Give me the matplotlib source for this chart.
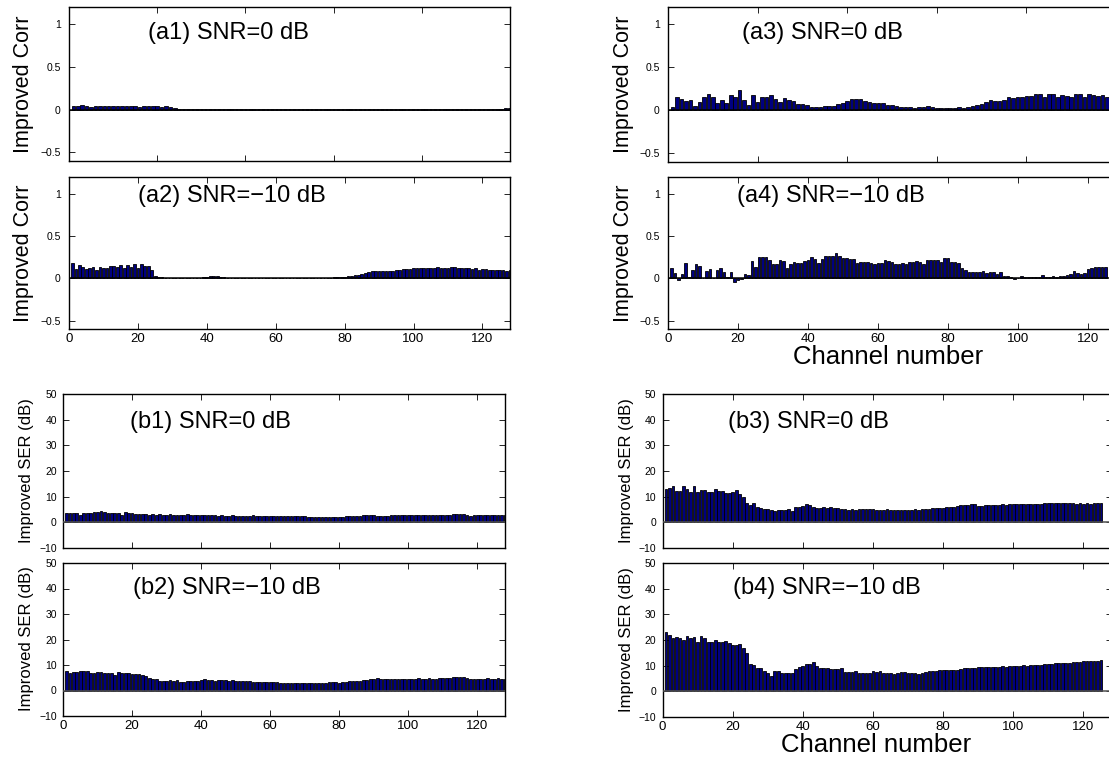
import matplotlib
matplotlib.use("Agg")
import matplotlib.pyplot as plt

plt.rcParams["font.family"] = ["Liberation Sans", "DejaVu Sans"]

# ---------------------------------------------------------------- data
# Improved correlation per channel, (a1)/(a3) shown over channels 1-100
corr_a1 = [0.040, 0.045, 0.055, 0.040, 0.035, 0.045, 0.040, 0.045, 0.045, 0.040,
           0.048, 0.042, 0.045, 0.040, 0.038, 0.035, 0.038, 0.045, 0.040, 0.045,
           0.036, 0.042, 0.030, 0.018, 0.008, 0.004, 0.003, 0.002, 0.002, 0.002,
           0.002, 0.002, 0.002, 0.002, 0.002, 0.002, 0.002, 0.002, 0.002, 0.002,
           0.002, 0.002, 0.002, 0.002, 0.002, 0.002, 0.002, 0.002, 0.002, 0.002,
           0.002, 0.002, 0.002, 0.002, 0.002, 0.002, 0.002, 0.002, 0.002, 0.002,
           0.002, 0.002, 0.002, 0.002, 0.002, 0.002, 0.002, 0.002, 0.002, 0.002,
           0.002, 0.002, 0.002, 0.002, 0.002, 0.003, 0.003, 0.003, 0.003, 0.004,
           0.004, 0.005, 0.005, 0.006, 0.006, 0.007, 0.008, 0.009, 0.010, 0.011,
           0.010, 0.009, 0.008, 0.008, 0.009, 0.010, 0.011, 0.012, 0.014, 0.015]

corr_a2 = [0.18, 0.11, 0.16, 0.13, 0.11, 0.12, 0.14, 0.10, 0.14, 0.12,
           0.12, 0.15, 0.15, 0.13, 0.16, 0.12, 0.16, 0.13, 0.17, 0.12,
           0.17, 0.15, 0.15, 0.10, 0.03, 0.015, 0.010, 0.008, 0.006, 0.005,
           0.005, 0.005, 0.005, 0.005, 0.005, 0.006, 0.006, 0.008, 0.012, 0.018,
           0.022, 0.030, 0.025, 0.015, 0.010, 0.008, 0.006, 0.005, 0.005, 0.005,
           0.004, 0.004, 0.004, 0.004, 0.004, 0.004, 0.004, 0.004, 0.004, 0.004,
           0.004, 0.004, 0.004, 0.004, 0.004, 0.004, 0.004, 0.004, 0.005, 0.005,
           0.005, 0.006, 0.006, 0.007, 0.008, 0.009, 0.010, 0.012, 0.015, 0.018,
           0.022, 0.028, 0.035, 0.045, 0.055, 0.065, 0.075, 0.085, 0.090, 0.088,
           0.082, 0.088, 0.085, 0.090, 0.100, 0.100, 0.105, 0.110, 0.115, 0.118,
           0.120, 0.118, 0.125, 0.128, 0.120, 0.125, 0.130, 0.128, 0.120, 0.128,
           0.130, 0.133, 0.128, 0.120, 0.128, 0.120, 0.112, 0.118, 0.100, 0.108,
           0.110, 0.100, 0.102, 0.100, 0.095, 0.100, 0.092, 0.098]

corr_a3 = [0.04, 0.15, 0.13, 0.11, 0.12, 0.05, 0.10, 0.16, 0.19, 0.15,
           0.09, 0.12, 0.09, 0.18, 0.15, 0.235, 0.12, 0.065, 0.18, 0.10,
           0.155, 0.155, 0.175, 0.13, 0.10, 0.14, 0.12, 0.11, 0.07, 0.07,
           0.06, 0.04, 0.035, 0.035, 0.045, 0.05, 0.055, 0.07, 0.085, 0.11,
           0.13, 0.135, 0.13, 0.11, 0.10, 0.085, 0.085, 0.085, 0.065, 0.06,
           0.05, 0.04, 0.04, 0.035, 0.03, 0.04, 0.04, 0.045, 0.035, 0.03,
           0.03, 0.025, 0.03, 0.03, 0.035, 0.03, 0.04, 0.05, 0.06, 0.075,
           0.095, 0.12, 0.11, 0.11, 0.12, 0.155, 0.145, 0.155, 0.155, 0.17,
           0.17, 0.19, 0.19, 0.16, 0.19, 0.19, 0.15, 0.18, 0.17, 0.16,
           0.19, 0.19, 0.16, 0.19, 0.18, 0.17, 0.18, 0.16, 0.155, 0.15]

corr_a4 = [0.125, 0.065, -0.015, 0.05, 0.18, 0.01, 0.095, 0.17, 0.15, 0.0,
           0.085, 0.11, 0.0, 0.10, 0.12, 0.08, 0.01, 0.07, -0.045, -0.025,
           -0.01, 0.055, 0.04, 0.20, 0.135, 0.255, 0.255, 0.25, 0.22, 0.175,
           0.175, 0.215, 0.20, 0.125, 0.165, 0.19, 0.185, 0.185, 0.205, 0.22,
           0.25, 0.225, 0.185, 0.225, 0.27, 0.27, 0.27, 0.305, 0.27, 0.235,
           0.245, 0.225, 0.225, 0.185, 0.195, 0.195, 0.19, 0.185, 0.175, 0.185,
           0.185, 0.215, 0.21, 0.19, 0.165, 0.17, 0.185, 0.17, 0.195, 0.19,
           0.20, 0.19, 0.17, 0.215, 0.22, 0.22, 0.22, 0.195, 0.235, 0.235,
           0.195, 0.195, 0.185, 0.12, 0.10, 0.075, 0.075, 0.075, 0.075, 0.085,
           0.06, 0.08, 0.08, 0.055, 0.07, 0.03, 0.025, 0.015, -0.01, 0.0,
           0.025, 0.01, 0.02, 0.02, 0.02, 0.015, 0.045, 0.01, 0.015, 0.025,
           0.02, 0.025, 0.025, 0.04, 0.05, 0.085, 0.06, 0.05, 0.06, 0.115,
           0.125, 0.13, 0.13, 0.135, 0.135]

# Improved SER (dB) per channel
ser_b1 = [3.5, 3.8, 3.6, 3.8, 3.0, 3.5, 3.8, 3.5, 4.0, 3.9,
          4.5, 4.0, 3.8, 3.8, 3.8, 3.8, 3.0, 4.1, 3.6, 3.6,
          3.4, 3.1, 3.4, 3.1, 3.0, 3.1, 3.0, 3.1, 3.0, 3.0,
          3.1, 2.9, 2.7, 2.9, 2.9, 3.1, 3.0, 2.7, 2.7, 2.7,
          2.7, 2.7, 2.7, 2.7, 2.6, 2.7, 2.6, 2.6, 2.7, 2.6,
          2.5, 2.6, 2.5, 2.6, 2.7, 2.6, 2.5, 2.5, 2.6, 2.5,
          2.4, 2.5, 2.4, 2.3, 2.4, 2.4, 2.3, 2.3, 2.4, 2.3,
          2.2, 2.2, 2.2, 2.1, 2.2, 2.2, 2.1, 2.2, 2.2, 2.2,
          2.2, 2.3, 2.3, 2.4, 2.4, 2.6, 2.8, 2.9, 3.0, 2.9,
          2.6, 2.6, 2.6, 2.6, 2.7, 2.7, 2.7, 2.8, 2.8, 2.8,
          2.8, 2.9, 2.8, 2.9, 2.8, 2.9, 2.9, 2.9, 2.8, 2.9,
          3.0, 2.9, 3.1, 3.2, 3.3, 3.1, 3.0, 2.6, 2.7, 2.8,
          2.7, 2.8, 2.9, 2.8, 2.9, 3.0, 3.0, 3.0]

ser_b2 = [7.7, 6.8, 7.2, 7.2, 7.7, 7.8, 7.8, 6.8, 7.0, 7.2,
          7.2, 7.0, 6.9, 7.0, 6.0, 7.2, 7.0, 6.9, 6.8, 6.4,
          6.4, 6.4, 6.1, 5.7, 5.0, 4.7, 4.6, 3.9, 3.7, 3.9,
          4.0, 3.9, 4.0, 3.4, 3.3, 3.9, 3.8, 3.8, 3.9, 4.0,
          4.4, 4.2, 4.2, 3.9, 4.2, 4.0, 4.2, 3.9, 4.0, 3.8,
          3.8, 3.7, 3.7, 3.7, 3.4, 3.4, 3.3, 3.3, 3.4, 3.3,
          3.5, 3.4, 3.1, 3.1, 3.1, 3.0, 3.1, 3.1, 3.1, 3.0,
          3.0, 3.0, 3.1, 3.0, 3.1, 3.1, 3.4, 3.4, 3.3, 3.1,
          3.4, 3.5, 3.7, 3.7, 3.8, 3.9, 4.0, 4.2, 4.4, 4.7,
          4.8, 4.4, 4.4, 4.5, 4.4, 4.5, 4.6, 4.5, 4.6, 4.6,
          4.7, 4.7, 4.8, 4.7, 4.7, 4.8, 4.7, 4.7, 4.8, 4.8,
          4.9, 4.8, 5.2, 5.2, 5.3, 5.1, 4.8, 4.7, 4.7, 4.7,
          4.7, 4.7, 4.8, 4.7, 4.7, 4.8, 4.7, 4.7]

ser_b3 = [12.8, 13.4, 14.0, 12.4, 12.4, 14.0, 13.0, 12.0, 14.0, 12.0,
          12.6, 12.6, 12.0, 12.0, 12.8, 12.4, 12.4, 11.3, 11.3, 11.7,
          12.6, 11.1, 10.0, 7.7, 6.8, 7.7, 6.1, 5.6, 5.0, 5.0,
          4.8, 4.4, 4.7, 4.7, 4.7, 5.1, 4.4, 6.1, 6.1, 6.4,
          7.0, 6.6, 6.1, 5.5, 5.7, 6.1, 5.7, 6.0, 5.5, 5.5,
          5.2, 5.0, 4.8, 5.1, 4.8, 5.0, 5.0, 5.1, 5.1, 5.0,
          4.8, 4.7, 4.7, 5.0, 4.8, 4.9, 4.9, 4.8, 4.9, 4.9,
          4.9, 5.2, 4.7, 5.0, 5.1, 5.3, 5.6, 5.6, 5.7, 5.6,
          5.9, 6.1, 6.0, 6.4, 6.6, 6.8, 6.9, 7.0, 7.0, 6.5,
          6.5, 6.6, 6.6, 6.8, 6.9, 6.8, 7.0, 6.9, 7.0, 7.0,
          7.1, 7.2, 7.1, 7.3, 7.2, 7.2, 7.3, 7.3, 7.4, 7.5,
          7.5, 7.6, 7.5, 7.6, 7.5, 7.4, 7.4, 7.3, 7.4, 7.3,
          7.4, 7.3, 7.4, 7.4, 7.4]

ser_b4 = [23.1, 21.8, 20.7, 21.1, 20.7, 20.1, 21.4, 20.7, 21.1, 19.4,
          21.4, 20.9, 19.2, 19.4, 20.1, 19.4, 19.4, 19.8, 18.8, 17.9,
          17.9, 18.5, 17.0, 15.0, 10.7, 10.4, 9.1, 9.1, 8.1, 7.2,
          6.1, 8.1, 7.8, 7.0, 7.2, 7.2, 7.2, 8.7, 9.6, 10.0,
          10.7, 10.7, 11.3, 10.0, 9.1, 8.9, 8.9, 8.7, 8.7, 8.6,
          8.9, 7.7, 7.7, 7.7, 7.8, 7.0, 7.3, 7.2, 7.2, 8.0,
          7.7, 8.1, 7.3, 7.3, 7.2, 6.8, 7.0, 7.4, 7.4, 7.3,
          7.0, 7.2, 6.9, 7.3, 7.7, 7.8, 8.1, 8.1, 8.2, 8.2,
          8.3, 8.4, 8.3, 8.5, 8.6, 9.0, 9.0, 9.1, 9.2, 9.3,
          9.4, 9.3, 9.5, 9.4, 9.5, 9.6, 9.7, 9.6, 9.8, 9.8,
          9.9, 10.0, 10.1, 10.0, 10.2, 10.3, 10.4, 10.3, 10.5, 10.6,
          10.8, 10.9, 11.0, 11.1, 11.0, 11.2, 11.3, 11.4, 11.6, 11.8,
          11.7, 11.9, 12.0, 11.9, 12.1]

panel_titles = ["(a1) SNR=0 dB", "(a2) SNR=\u221210 dB",
                "(a3) SNR=0 dB", "(a4) SNR=\u221210 dB",
                "(b1) SNR=0 dB", "(b2) SNR=\u221210 dB",
                "(b3) SNR=0 dB", "(b4) SNR=\u221210 dB"]

corr_ticks = [-0.5, 0, 0.5, 1]
corr_ticklabels = ["\u22120.5", "0", "0.5", "1"]
ser_ticks = [-10, 0, 10, 20, 30, 40, 50]
ser_ticklabels = ["\u221210", "0", "10", "20", "30", "40", "50"]
channel_ticks = [0, 20, 40, 60, 80, 100, 120]
channel_ticklabels = ["0", "20", "40", "60", "80", "100", "120"]

# ---------------------------------------------------------------- figure
W, H = 1109, 759
fig = plt.figure(figsize=(W / 100, H / 100), dpi=100)
fig.patch.set_facecolor("white")


def px_axes(left, top, right, bottom):
    return fig.add_axes([left / W, 1 - bottom / H, (right - left) / W, (bottom - top) / H])


BAR_FACE = "#000080"


def draw_panel(ax, values, xmax, ylim, yticks, yticklabels, title, title_x, title_y,
               xlabels, baseline_color, ypad):
    chans = list(range(1, len(values) + 1))
    ax.bar(chans, values, width=0.8, color=BAR_FACE, edgecolor="black",
           linewidth=0.6, zorder=2)
    ax.axhline(0, color=baseline_color, linewidth=1.1, zorder=3)
    ax.set_xlim(0, xmax)
    ax.set_ylim(*ylim)
    ax.set_xticks([t for t in channel_ticks if t <= xmax])
    if xlabels:
        ax.set_xticklabels([l for t, l in zip(channel_ticks, channel_ticklabels) if t <= xmax],
                           fontsize=9.5)
    else:
        ax.set_xticklabels([])
    ax.set_yticks(yticks)
    ax.set_yticklabels(yticklabels, fontsize=7.5)
    ax.tick_params(direction="in", top=True, right=True, length=4, width=0.6)
    ax.tick_params(axis="x", pad=3)
    ax.tick_params(axis="y", pad=ypad)
    for s in ax.spines.values():
        s.set_linewidth(1.0)
    ax.text(title_x, title_y, title, transform=ax.transAxes, ha="left", va="center",
            fontsize=17)


corr_lim = (-0.6, 1.2)
ser_lim = (-10, 50)

# Correlation panels
ax = px_axes(69, 7, 510, 161)
draw_panel(ax, corr_a1, 100, corr_lim, corr_ticks, corr_ticklabels, panel_titles[0],
           0.179, 0.83, False, "black", 6)

ax = px_axes(69, 177, 510, 329)
draw_panel(ax, corr_a2, 128, corr_lim, corr_ticks, corr_ticklabels, panel_titles[1],
           0.156, 0.875, True, "black", 6)

ax = px_axes(668, 7, 1116, 162)
draw_panel(ax, corr_a3, 100, corr_lim, corr_ticks, corr_ticklabels, panel_titles[2],
           0.165, 0.83, False, "black", 6)

ax = px_axes(668, 177, 1116, 329)
draw_panel(ax, corr_a4, 128, corr_lim, corr_ticks, corr_ticklabels, panel_titles[3],
           0.154, 0.875, True, "black", 6)

# SER panels
ax = px_axes(63, 394, 505, 548)
draw_panel(ax, ser_b1, 128, ser_lim, ser_ticks, ser_ticklabels, panel_titles[4],
           0.152, 0.82, False, "#505050", 4.5)

ax = px_axes(63, 563, 505, 716)
draw_panel(ax, ser_b2, 128, ser_lim, ser_ticks, ser_ticklabels, panel_titles[5],
           0.158, 0.837, True, "#505050", 4.5)

ax = px_axes(662.5, 394, 1111.5, 548)
draw_panel(ax, ser_b3, 128, ser_lim, ser_ticks, ser_ticklabels, panel_titles[6],
           0.146, 0.82, False, "#505050", 4.5)

ax = px_axes(662.5, 563, 1111.5, 717)
draw_panel(ax, ser_b4, 128, ser_lim, ser_ticks, ser_ticklabels, panel_titles[7],
           0.157, 0.838, True, "#505050", 4.5)


# Axis titles placed in figure pixels
def fig_text(x, y, s, **kw):
    fig.text(x / W, 1 - y / H, s, ha="center", va="center", **kw)


fig_text(24, 84, "Improved Corr", rotation=90, fontsize=15.5)
fig_text(24, 253, "Improved Corr", rotation=90, fontsize=15.5)
fig_text(624, 84, "Improved Corr", rotation=90, fontsize=15.5)
fig_text(624, 253, "Improved Corr", rotation=90, fontsize=15.5)
fig_text(27, 471, "Improved SER (dB)", rotation=90, fontsize=12)
fig_text(27, 639, "Improved SER (dB)", rotation=90, fontsize=12)
fig_text(627, 471, "Improved SER (dB)", rotation=90, fontsize=12)
fig_text(627, 640, "Improved SER (dB)", rotation=90, fontsize=12)
fig_text(888, 357, "Channel number", fontsize=18.5)
fig_text(876, 745, "Channel number", fontsize=18.5)

fig.savefig("out.png", dpi=100, facecolor="white")
